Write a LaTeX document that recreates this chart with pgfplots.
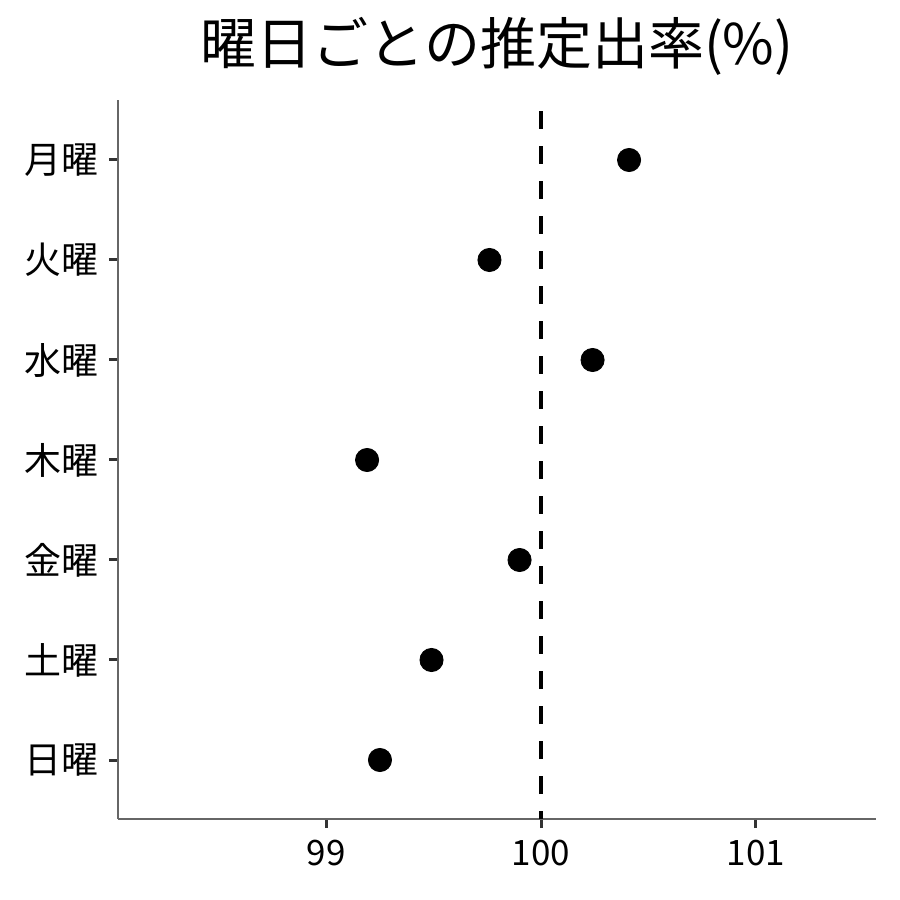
\documentclass[border=0pt]{standalone}
\usepackage{fontspec}
\setmainfont{Noto Sans CJK JP}
\usepackage{pgfplots}
\pgfplotsset{compat=1.18}

\begin{document}
\begin{tikzpicture}
\useasboundingbox (-59pt,-40.5pt) rectangle (391pt,409.5pt);
\begin{axis}[
    at={(0,0)}, anchor=south west,
    scale only axis,
    width=379pt, height=359.5pt,
    xmin=98.03, xmax=101.56,
    ymin=-0.59, ymax=6.6,
    axis x line*=bottom, axis y line*=left,
    axis line style={gray!80!black, line width=0.7pt, -},
    xtick={99,100,101},
    ytick={0,...,6},
    yticklabels={日曜,土曜,金曜,木曜,水曜,火曜,月曜},
    tick align=outside,
    major tick length=4.5pt,
    tick style={black!80, line width=1.5pt},
    /pgf/number format/assume math mode=true,
    xticklabel style={font=\fontsize{17.5}{20}\selectfont, yshift=-2.5pt},
    yticklabel style={font=\fontsize{18.5}{20}\selectfont, xshift=-1.5pt},
    title={曜日ごとの推定出率(\%)},
    title style={font=\fontsize{28}{32}\selectfont, yshift=2.5pt},
]
\addplot[black, line width=2pt, dash pattern=on 9pt off 8.5pt, dash phase=5pt]
    coordinates {(100,-0.59) (100,6.6)};
\addplot[only marks, mark=*, mark size=5.8pt, black] coordinates {
    (100.41,6) (99.76,5) (100.24,4) (99.19,3) (99.90,2) (99.49,1) (99.25,0)
};
\end{axis}
\end{tikzpicture}
\end{document}
